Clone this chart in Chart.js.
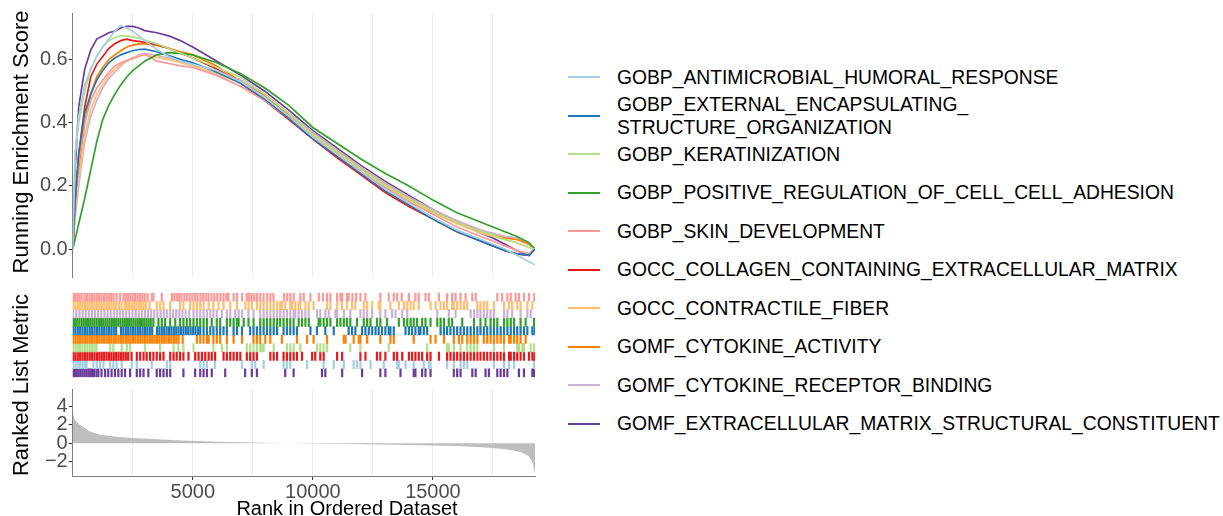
<!DOCTYPE html>
<html>
<head>
<meta charset="utf-8">
<script src="https://cdn.jsdelivr.net/npm/chart.js@4.4.0/dist/chart.umd.min.js"></script>
<style>
  html, body { margin: 0; padding: 0; background: #fff; }
  body { width: 1223px; height: 516px; overflow: hidden; position: relative; font-family: "Liberation Sans", Arial, sans-serif; }
  canvas { position: absolute; left: 0; }
  .key { position: absolute; left: 568px; width: 32px; height: 2px; }
  .lab { position: absolute; left: 617px; font-size: 19.3px; line-height: 23px; white-space: pre; color: #000; }
  .ytitle { position: absolute; width: 300px; height: 26px; line-height: 26px; text-align: center;
            font-size: 22px; color: #000; transform: rotate(-90deg); white-space: nowrap; }
  #esTitle { left: -129px; top: 129px; }
  #rankTitle { left: -129px; top: 372px; }
  #xTitle { position: absolute; left: 197px; width: 300px; top: 497px; height: 22px; line-height: 22px;
            text-align: center; font-size: 20px; color: #000; white-space: nowrap; }
</style>
</head>
<body>
<canvas id="esChart" width="545" height="290" style="top:0px"></canvas>
<canvas id="tickChart" width="545" height="98" style="top:286px"></canvas>
<canvas id="metricChart" width="545" height="142" style="top:376px"></canvas>
<div class="ytitle" id="esTitle">Running Enrichment Score</div>
<div class="ytitle" id="rankTitle">Ranked List Metric</div>
<div id="xTitle">Rank in Ordered Dataset</div>
<div id="legend"></div>
<script>
// Gene sets (legend order) and Paired palette
const setNames = [
    'GOBP_ANTIMICROBIAL_HUMORAL_RESPONSE',
    'GOBP_EXTERNAL_ENCAPSULATING_\nSTRUCTURE_ORGANIZATION',
    'GOBP_KERATINIZATION',
    'GOBP_POSITIVE_REGULATION_OF_CELL_CELL_ADHESION',
    'GOBP_SKIN_DEVELOPMENT',
    'GOCC_COLLAGEN_CONTAINING_EXTRACELLULAR_MATRIX',
    'GOCC_CONTRACTILE_FIBER',
    'GOMF_CYTOKINE_ACTIVITY',
    'GOMF_CYTOKINE_RECEPTOR_BINDING',
    'GOMF_EXTRACELLULAR_MATRIX_STRUCTURAL_CONSTITUENT'
];
const setColors = ['#A6CEE3', '#1F78B4', '#B2DF8A', '#33A02C', '#FB9A99',
                   '#E31A1C', '#FDBF6F', '#FF7F00', '#CAB2D6', '#6A3D9A'];

// Running enrichment score
const esRanks = [0, 100, 250, 500, 750, 1000, 1250, 1500, 1750, 2000, 2250, 2500, 2750, 3000, 3500, 4000, 4500, 5000, 6000,
                 7000, 8000, 9000, 10000, 11000, 12000, 13000, 14000, 15000, 16000, 17000, 17500, 18000, 18500, 19000, 19250];
const esAntimicrobial = [0, 0.3, 0.42, 0.52, 0.57, 0.61, 0.64, 0.665, 0.69, 0.708, 0.7, 0.69, 0.675, 0.66, 0.632, 0.61, 0.595, 0.585, 0.565,
                         0.53, 0.48, 0.42, 0.355, 0.3, 0.245, 0.19, 0.145, 0.1, 0.06, 0.03, 0.015, 0.0, -0.02, -0.04, -0.05];
const esExternal = [0, 0.15, 0.3, 0.43, 0.49, 0.535, 0.565, 0.59, 0.605, 0.615, 0.622, 0.628, 0.632, 0.633, 0.625, 0.613, 0.6, 0.59, 0.56,
                    0.525, 0.475, 0.415, 0.35, 0.295, 0.24, 0.185, 0.14, 0.095, 0.055, 0.025, 0.01, -0.005, -0.015, -0.02, 0.0];
const esKeratinization = [0, 0.3, 0.4, 0.5, 0.57, 0.61, 0.64, 0.66, 0.67, 0.675, 0.675, 0.672, 0.668, 0.662, 0.65, 0.635, 0.62, 0.605, 0.575,
                          0.545, 0.49, 0.43, 0.365, 0.31, 0.255, 0.205, 0.16, 0.12, 0.085, 0.055, 0.045, 0.03, 0.02, 0.005, 0.0];
const esCellAdhesion = [0, 0.03, 0.08, 0.16, 0.25, 0.34, 0.41, 0.455, 0.49, 0.52, 0.545, 0.565, 0.58, 0.595, 0.615, 0.622, 0.62, 0.615, 0.59,
                        0.555, 0.51, 0.455, 0.385, 0.335, 0.285, 0.24, 0.2, 0.155, 0.115, 0.085, 0.07, 0.055, 0.04, 0.02, 0.0];
const esSkin = [0, 0.15, 0.28, 0.4, 0.47, 0.51, 0.535, 0.56, 0.58, 0.59, 0.597, 0.603, 0.61, 0.618, 0.595, 0.588, 0.58, 0.575, 0.55,
                0.515, 0.47, 0.415, 0.355, 0.3, 0.245, 0.195, 0.15, 0.11, 0.07, 0.04, 0.025, 0.01, -0.005, -0.015, 0.0];
const esCollagen = [0, 0.15, 0.3, 0.45, 0.545, 0.585, 0.61, 0.635, 0.65, 0.66, 0.665, 0.66, 0.658, 0.655, 0.648, 0.635, 0.62, 0.605, 0.57,
                    0.525, 0.47, 0.41, 0.348, 0.29, 0.235, 0.18, 0.135, 0.095, 0.055, 0.025, 0.01, -0.005, -0.015, -0.02, 0.0];
const esContractile = [0, 0.12, 0.22, 0.36, 0.44, 0.49, 0.52, 0.55, 0.57, 0.585, 0.598, 0.606, 0.612, 0.615, 0.607, 0.6, 0.59, 0.58, 0.555,
                       0.525, 0.48, 0.42, 0.36, 0.305, 0.25, 0.2, 0.155, 0.115, 0.08, 0.05, 0.04, 0.03, 0.02, 0.005, 0.0];
const esCytokine = [0, 0.12, 0.25, 0.4, 0.49, 0.545, 0.575, 0.6, 0.615, 0.628, 0.64, 0.646, 0.65, 0.65, 0.645, 0.636, 0.625, 0.615, 0.58,
                    0.53, 0.485, 0.425, 0.365, 0.31, 0.255, 0.205, 0.16, 0.12, 0.085, 0.055, 0.045, 0.035, 0.03, 0.015, 0.0];
const esReceptor = [0, 0.1, 0.2, 0.34, 0.42, 0.47, 0.51, 0.54, 0.56, 0.58, 0.595, 0.605, 0.615, 0.62, 0.613, 0.605, 0.595, 0.585, 0.565,
                    0.535, 0.49, 0.43, 0.37, 0.315, 0.26, 0.21, 0.165, 0.125, 0.09, 0.06, 0.05, 0.04, 0.035, 0.015, 0.0];
const esMatrix = [0, 0.25, 0.45, 0.57, 0.63, 0.665, 0.675, 0.685, 0.69, 0.7, 0.705, 0.705, 0.7, 0.692, 0.685, 0.675, 0.66, 0.64, 0.595,
                  0.55, 0.5, 0.44, 0.375, 0.32, 0.265, 0.215, 0.17, 0.125, 0.085, 0.05, 0.035, 0.015, -0.005, -0.02, 0.005];
const esSeries = [esAntimicrobial, esExternal, esKeratinization, esCellAdhesion, esSkin,
                  esCollagen, esContractile, esCytokine, esReceptor, esMatrix];

// Hit positions (rank) of each gene set
const hitsAntimicrobial = [10, 110, 210, 310, 410, 510, 580, 860, 1000, 1140, 1280, 1560, 1690, 1830, 2040, 2460, 2670, 3290, 3920, 4060,
    5310, 5450, 5590, 5930, 7050, 7460, 7600, 7950, 8780, 8920, 9060, 9760, 10450, 10870, 11290, 11700, 11840, 11980, 12400, 12950,
    13510, 13580, 13860, 14200, 14620, 14830, 14900, 15590, 15870, 16150, 16290, 16430, 17540, 17960, 18170, 18380, 19210];
const hitsExternal = [10, 110, 210, 310, 410, 510, 610, 710, 810, 910, 1010, 1110, 1210, 1310, 1410, 1510, 1610, 1710, 1810, 2010,
    2110, 2210, 2310, 2410, 2510, 2610, 2710, 2810, 2910, 3010, 3110, 3210, 3310, 3510, 3610, 3710, 3810, 3910, 4010, 4110, 4210,
    4310, 4410, 4510, 4610, 4710, 4810, 4910, 5010, 5110, 5210, 5310, 5450, 5590, 5730, 5860, 6000, 6140, 6280, 6420, 6700, 6840,
    7050, 7390, 7530, 7670, 7810, 7950, 8090, 8230, 8370, 8510, 8780, 8920, 9060, 9200, 9340, 9900, 10170, 10520, 10870, 11490,
    11630, 11770, 12050, 12190, 12330, 12470, 12610, 12740, 12880, 13020, 13160, 13230, 13370, 13860, 14000, 14130, 14270, 14410,
    14480, 14620, 14760, 15320, 15460, 15590, 15730, 15870, 16010, 16150, 16290, 16430, 16570, 16710, 16850, 16980, 17120, 17260,
    17400, 17540, 17680, 17820, 17960, 18100, 18240, 18380, 18510, 18650, 18790, 18930, 19140, 19230];
const hitsKeratinization = [10, 110, 210, 310, 410, 510, 610, 710, 810, 910, 990, 1560, 1690, 2040, 2250, 2390, 3010, 3640, 4200, 4400,
    4610, 5030, 5860, 6210, 6420, 7250, 7390, 7530, 7670, 7810, 7880, 7950, 8370, 8920, 9060, 9200, 9480, 10170, 10310, 10450, 10590,
    11560, 11980, 13160, 14760, 15590, 15660, 15870, 16150, 16430, 16570, 16710, 16850, 17540, 17960, 18510, 18580, 18720, 18790,
    19070, 19210];
const hitsCellAdhesion = [10, 100, 190, 280, 370, 460, 550, 640, 730, 820, 910, 1000, 1090, 1180, 1270, 1360, 1450, 1540, 1630, 1720,
    1810, 1900, 1990, 2080, 2170, 2260, 2350, 2440, 2530, 2620, 2710, 2800, 2890, 2980, 3070, 3160, 3250, 3360, 3570, 3710, 3850,
    4060, 4270, 4470, 4610, 4750, 4890, 5030, 5170, 5310, 5450, 5590, 5790, 6000, 6140, 6420, 6560, 6700, 6840, 6910, 7120, 7320,
    7530, 7810, 7950, 8090, 8230, 8370, 8510, 8640, 8780, 8920, 9060, 9200, 9410, 9550, 9690, 9830, 10240, 10310, 10450, 10590,
    10730, 11010, 11150, 11290, 11420, 11560, 11840, 12120, 12260, 12400, 12670, 12810, 13090, 13580, 13790, 13930, 14070, 14200,
    14340, 14550, 14690, 14900, 15180, 15320, 15460, 15660, 15800, 16220, 16710, 16980, 17190, 17400, 17540, 17680, 17960, 18100,
    18240, 18380, 18650, 18860, 19210];
const hitsSkin = [10, 100, 190, 280, 370, 500, 600, 700, 800, 900, 1000, 1100, 1200, 1300, 1400, 1500, 1600, 1700, 1830, 1970, 2110,
    2200, 2300, 2400, 2500, 2600, 2700, 2800, 2900, 3000, 3120, 3290, 3360, 3710, 4130, 4230, 4330, 4430, 4530, 4650, 4760, 4870,
    4980, 5100, 5200, 5320, 5430, 5540, 5650, 5780, 5900, 6020, 6150, 6280, 6400, 6480, 6700, 6840, 7050, 7250, 7350, 7450, 7560,
    7680, 7810, 7950, 8100, 8230, 8360, 8790, 8930, 9060, 9200, 9480, 9620, 9900, 10250, 10420, 10590, 10730, 11010, 11150, 11220,
    11420, 11490, 11650, 11800, 11980, 12190, 12810, 13160, 13370, 13510, 13700, 14000, 14270, 14410, 14690, 14830, 15250, 15590,
    15800, 15940, 16150, 16360, 16640, 16780, 17680, 17880, 18100, 18240, 18440, 18580, 18790, 19000, 19220];
const hitsCollagen = [10, 110, 210, 310, 410, 510, 610, 710, 810, 910, 1010, 1110, 1210, 1310, 1410, 1510, 1610, 1710, 1810, 1910,
    2010, 2110, 2210, 2310, 2450, 2670, 2810, 2950, 3080, 3220, 3360, 3500, 3640, 3780, 4060, 4200, 4330, 4470, 4610, 4820, 5100,
    5240, 5380, 5520, 5660, 5790, 5930, 6280, 6420, 6560, 6700, 6840, 6980, 7250, 7390, 7530, 7670, 8230, 8370, 8510, 8780, 8920,
    9060, 9200, 9340, 9550, 9970, 10100, 10310, 10450, 11010, 11220, 11980, 12190, 12670, 12810, 13020, 13370, 13510, 13720, 14000,
    14130, 14270, 14410, 14550, 14760, 14900, 15250, 15590, 15730, 15870, 16010, 16150, 16290, 16430, 16570, 16710, 16850, 16980,
    17120, 17260, 17400, 17540, 17680, 17820, 17960, 18170, 18240, 18380, 18510, 18650, 18790, 19000, 19140, 19230];
const hitsContractile = [10, 110, 210, 310, 410, 510, 610, 710, 810, 910, 1010, 1110, 1210, 1310, 1410, 1510, 1610, 1710, 1810, 1930,
    2040, 2180, 2250, 2350, 2450, 2550, 2650, 2750, 2850, 2950, 3050, 3200, 3500, 3640, 3780, 4060, 4470, 4610, 4890, 5030, 5170,
    5310, 5450, 5660, 5860, 6070, 6280, 6560, 6840, 7190, 7320, 7460, 7670, 7810, 7950, 8090, 8230, 8370, 8510, 8640, 8710, 8850,
    9060, 9130, 9270, 9410, 9480, 9690, 9830, 10030, 10590, 10730, 11010, 11210, 11420, 11630, 11770, 12120, 12260, 12470, 12740,
    12810, 13230, 13580, 13790, 13930, 14070, 14200, 14410, 14900, 15110, 15320, 15460, 15590, 15800, 15870, 16010, 16150, 16290,
    16430, 16850, 16980, 17120, 17260, 17540, 17960, 18170, 18300, 18510, 18650, 18930, 19140];
const hitsCytokine = [10, 110, 210, 310, 410, 510, 610, 710, 810, 910, 1010, 1110, 1210, 1310, 1410, 1510, 1610, 1710, 1810, 1910,
    2010, 2110, 2210, 2310, 2410, 2510, 2610, 2710, 2810, 2910, 3010, 3110, 3210, 3310, 3410, 3510, 3610, 3710, 3810, 3910, 4010,
    4110, 4210, 4310, 4410, 4580, 5170, 5310, 5450, 5590, 5660, 5860, 6000, 6140, 6420, 6700, 7050, 7530, 7670, 7810, 8020, 8230,
    8710, 9340, 9760, 10030, 10590, 11290, 11360, 11700, 11910, 11980, 12260, 12810, 13230, 13370, 14200, 14900, 15110, 15460,
    15870, 16080, 16220, 16430, 16570, 16710, 16850, 17120, 17260, 17400, 17540, 17680, 17820, 17960, 18170, 18240, 18380, 18510,
    18650, 18860];
const hitsReceptor = [20, 150, 280, 410, 540, 670, 800, 930, 1060, 1190, 1320, 1450, 1580, 1710, 1840, 1970, 2100, 2230, 2360, 2490,
    2620, 2750, 2880, 3010, 3140, 3270, 3400, 3530, 3660, 3790, 3920, 4050, 4180, 4310, 4440, 4570, 4700, 4850, 5030, 5170, 5310,
    5450, 5590, 5730, 5860, 6000, 6210, 6420, 6560, 6770, 6910, 7050, 7320, 7530, 7810, 7950, 8090, 8230, 8370, 8510, 8640, 8780,
    8920, 9060, 9200, 9270, 9410, 9550, 9690, 9830, 10170, 10310, 10520, 10660, 10940, 11010, 11290, 11560, 11980, 12120, 12260,
    12470, 12810, 13020, 13300, 13440, 13720, 13930, 15180, 15660, 15940, 16570, 16710, 16850, 16980, 17120, 17260, 17400, 17540,
    17960, 18100, 18300, 18650, 18930, 19070];
const hitsMatrix = [10, 90, 170, 250, 330, 410, 490, 570, 650, 730, 810, 890, 990, 1070, 1200, 1350, 1480, 1620, 1760, 1900, 2040,
    2180, 2390, 2670, 2810, 2950, 3150, 3500, 3640, 3780, 3920, 4060, 4610, 5100, 5310, 5450, 5590, 5790, 6350, 7180, 7460, 7670,
    8850, 9200, 10380, 10520, 11220, 12050, 12810, 13020, 13650, 14200, 14270, 14550, 14690, 14900, 15870, 16010, 16150, 16640,
    16780, 17190, 17330, 17680, 17820, 17960, 18100, 18580, 18790, 19140, 19210];
const setHits = [hitsAntimicrobial, hitsExternal, hitsKeratinization, hitsCellAdhesion, hitsSkin,
                 hitsCollagen, hitsContractile, hitsCytokine, hitsReceptor, hitsMatrix];
// order of the tick rows, top to bottom (index into setNames)
const tickRowOrder = [4, 6, 8, 3, 1, 7, 2, 5, 0, 9];

// Ranked list metric
const metricRanks = [0, 30, 100, 300, 700, 1100, 1800, 2500, 3500, 4500, 5500, 6500, 7500, 8500, 9500, 10500, 11500, 12500,
                     13500, 14500, 15500, 16500, 17200, 17800, 18300, 18700, 19000, 19150, 19250];
const metricValues = [4.0, 3.0, 2.5, 2.0, 1.3, 0.95, 0.72, 0.58, 0.43, 0.31, 0.22, 0.15, 0.09, 0.04, -0.01, -0.05, -0.09, -0.13,
                      -0.17, -0.22, -0.28, -0.36, -0.45, -0.58, -0.75, -1.0, -1.4, -2.1, -3.4];

// Axis ticks
const rankMax = 19250;
const gridRanks = [2500, 5000, 7500, 10000, 12500, 15000, 17500];
const esTicks = [0, 0.2, 0.4, 0.6];
const metricTicks = [-2, 0, 2, 4];

const FONT = '"Liberation Sans", Arial, sans-serif';
const AXIS_W = 72.7;
const tickFont = { family: FONT, size: 20 };

Chart.defaults.font.family = FONT;

const baseOptions = {
    responsive: false,
    animation: false,
    devicePixelRatio: 1,
    events: [],
    plugins: { legend: { display: false }, tooltip: { enabled: false } }
};

// Top panel: running enrichment score
new Chart(document.getElementById('esChart'), {
    type: 'line',
    data: {
        datasets: esSeries.map((vals, i) => ({
            label: setNames[i],
            data: esRanks.map((r, k) => ({ x: r, y: vals[k] })),
            borderColor: setColors[i],
            borderWidth: 1.7,
            pointRadius: 0,
            tension: 0,
            fill: false
        }))
    },
    options: {
        ...baseOptions,
        layout: { padding: { top: 10, bottom: 3.5, right: 10, left: 0 } },
        scales: {
            x: {
                type: 'linear', min: 0, max: rankMax,
                afterBuildTicks: s => { s.ticks = gridRanks.map(v => ({ value: v })); },
                afterFit: s => { s.height = 0; },
                grid: { color: '#EBEBEB', drawTicks: false },
                border: { display: false },
                ticks: { display: false }
            },
            y: {
                min: -0.0885, max: 0.7476,
                afterBuildTicks: s => { s.ticks = esTicks.map(v => ({ value: v })); },
                afterFit: s => { s.width = AXIS_W; },
                grid: { drawOnChartArea: false, tickLength: 4, color: '#333333' },
                border: { color: '#7F7F7F', width: 1 },
                ticks: { font: tickFont, color: '#4D4D4D', padding: 1, callback: v => v.toFixed(1) }
            }
        }
    }
});

// Middle panel: hit ticks for each gene set
new Chart(document.getElementById('tickChart'), {
    type: 'scatter',
    data: {
        datasets: tickRowOrder.map((s, row) => ({
            label: setNames[s],
            data: setHits[s].map(x => ({ x: x, y: 9.5 - row })),
            pointStyle: 'line',
            pointRotation: 90,
            pointRadius: 4.5,
            pointBorderWidth: 2.2,
            pointBorderColor: setColors[s],
            pointBackgroundColor: setColors[s]
        }))
    },
    options: {
        ...baseOptions,
        layout: { padding: { top: 3, bottom: 3, right: 10, left: AXIS_W } },
        scales: {
            x: { type: 'linear', min: 0, max: rankMax, display: false },
            y: { min: 0, max: 10, display: false }
        }
    }
});

// Bottom panel: ranked list metric
new Chart(document.getElementById('metricChart'), {
    type: 'line',
    data: {
        datasets: [{
            data: metricRanks.map((r, k) => ({ x: r, y: metricValues[k] })),
            borderColor: 'rgba(0,0,0,0)',
            borderWidth: 0,
            backgroundColor: '#BEBEBE',
            pointRadius: 0,
            tension: 0,
            fill: 'origin'
        }]
    },
    options: {
        ...baseOptions,
        layout: { padding: { top: 7, bottom: 0, right: 10, left: 0 } },
        scales: {
            x: {
                type: 'linear', min: 0, max: rankMax,
                afterBuildTicks: s => { s.ticks = gridRanks.map(v => ({ value: v })); },
                afterFit: s => { s.height = 42; },
                grid: {
                    color: '#EBEBEB', tickLength: 4,
                    tickColor: ctx => (ctx.tick && ctx.tick.value % 5000 === 0) ? '#333333' : 'rgba(0,0,0,0)'
                },
                border: { color: '#7F7F7F', width: 1 },
                ticks: { font: tickFont, color: '#4D4D4D', padding: 0, autoSkip: false, maxRotation: 0,
                         callback: v => v % 5000 === 0 ? String(v) : '' }
            },
            y: {
                min: -3.55, max: 5.89,
                afterBuildTicks: s => { s.ticks = metricTicks.map(v => ({ value: v })); },
                afterFit: s => { s.width = AXIS_W; },
                grid: { drawOnChartArea: false, tickLength: 4, color: '#333333' },
                border: { color: '#7F7F7F', width: 1 },
                ticks: { font: tickFont, color: '#4D4D4D', padding: 1,
                         callback: v => v < 0 ? '\u2212' + Math.abs(v) : String(v) }
            }
        }
    }
});

// Legend
const legendEl = document.getElementById('legend');
setNames.forEach((name, i) => {
    const yc = 77.3 + 38.5 * i;
    const key = document.createElement('div');
    key.className = 'key';
    key.style.top = (yc - 1) + 'px';
    key.style.background = setColors[i];
    legendEl.appendChild(key);

    const lines = name.split('\n').length;
    const lab = document.createElement('div');
    lab.className = 'lab';
    lab.style.top = (yc - lines * 23 / 2) + 'px';
    lab.textContent = name;
    legendEl.appendChild(lab);
});
</script>
</body>
</html>
